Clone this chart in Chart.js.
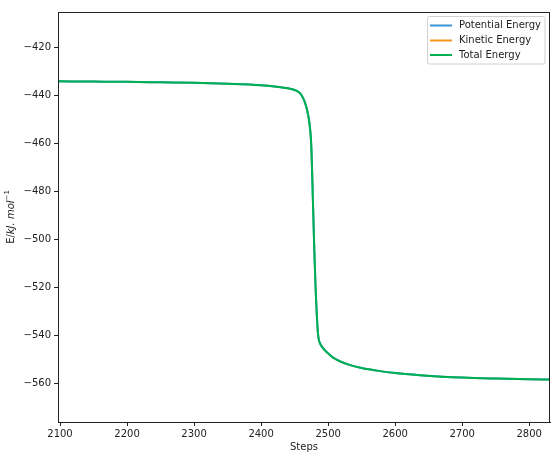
<!DOCTYPE html>
<html><head><meta charset="utf-8">
<script src="https://cdn.jsdelivr.net/npm/chart.js@4/dist/chart.umd.min.js"></script>
<style>html,body{margin:0;padding:0;background:#fff}#wrap{width:558px;height:456px}</style>
</head><body><div id="wrap"><canvas id="c" width="558" height="456"></canvas></div>
<script>
const steps = [2097,2150,2200,2250,2300,2350,2400,2420,2440,2450,2458,2463,2467,2470,2472,2474,2475,2476,2477,2478,2479,2480,2481,2482,2483,2484,2485,2486,2488,2490,2495,2500,2508,2520,2533,2550,2575,2600,2637,2670,2700,2750,2800,2831];
const totalEnergy = [-434.3,-434.4,-434.5,-434.7,-434.9,-435.3,-435.9,-436.4,-437.2,-437.9,-439.2,-441.5,-444.5,-448,-451.5,-457,-462,-471,-481,-491,-501,-510,-518,-525,-531,-536,-539.8,-541.8,-543.5,-544.5,-546.3,-547.6,-549.5,-551.2,-552.5,-553.7,-554.9,-555.8,-556.7,-557.3,-557.7,-558.1,-558.4,-558.5];
const potentialEnergy = [-434.3,-434.4,-434.5,-434.7,-434.9,-435.3,-435.9,-436.4,-437.2,-437.9,-439.2,-441.5,-444.5,-448,-451.5,-457,-462,-471,-481,-491,-501,-510,-518,-525,-531,-536,-539.8,-541.8,-543.5,-544.5,-546.3,-547.6,-549.5,-551.2,-552.5,-553.7,-554.9,-555.8,-556.7,-557.3,-557.7,-558.1,-558.4,-558.5];
const kineticEnergy = [0,0,0,0,0,0,0,0,0,0,0,0,0,0,0,0,0,0,0,0,0,0,0,0,0,0,0,0,0,0,0,0,0,0,0,0,0,0,0,0,0,0,0,0];
const seriesLabels = ['Potential Energy','Kinetic Energy','Total Energy'];
const seriesColors = ['#3a93d5','#f7931e','#00b04f'];
const xTicks = [2100,2200,2300,2400,2500,2600,2700,2800];
const yTicks = [-420,-440,-460,-480,-500,-520,-540,-560];

const pts = arr => arr.map((v,i)=>({x:steps[i], y:v}));
const FONT = 'DejaVu Sans';

const extras = {
  id:'extras',
  afterDraw(chart){
    const ctx = chart.ctx, a = chart.chartArea;
    ctx.save();
    ctx.strokeStyle = '#222'; ctx.lineWidth = 1;
    ctx.strokeRect(Math.round(a.left)+0.5, Math.round(a.top)+0.5, Math.round(a.right-a.left)-1, Math.round(a.bottom-a.top));
    // legend
    const lx = 427.5, ly = 16.5, lw = 117.5, lh = 47.5;
    ctx.fillStyle = 'rgba(255,255,255,0.8)';
    ctx.strokeStyle = '#d0d0d0';
    ctx.beginPath();
    if (ctx.roundRect) ctx.roundRect(lx, ly, lw, lh, 2); else ctx.rect(lx,ly,lw,lh);
    ctx.fill(); ctx.stroke();
    ctx.font = '10px "' + FONT + '"';
    ctx.textBaseline = 'middle'; ctx.textAlign = 'left';
    const rows = [25.5, 40.5, 55];
    seriesLabels.forEach((lab,i)=>{
      ctx.strokeStyle = seriesColors[i]; ctx.lineWidth = 2;
      ctx.beginPath(); ctx.moveTo(430, rows[i]); ctx.lineTo(452, rows[i]); ctx.stroke();
      ctx.fillStyle = '#222';
      ctx.fillText(lab, 459, rows[i]);
    });
    // x title
    ctx.textAlign = 'center';
    ctx.fillText('Steps', (a.left+a.right)/2, 447);
    // y title (rotated, mixed)
    ctx.translate(11, 217);
    ctx.rotate(-Math.PI/2);
    const p1 = 'E/', p2 = 'kJ. mol', p3 = '\u22121';
    ctx.font = '10px "' + FONT + '"';
    const w1 = ctx.measureText(p1).width;
    ctx.font = 'italic 10px "' + FONT + '"';
    const w2 = ctx.measureText(p2).width;
    ctx.font = '7px "' + FONT + '"';
    const w3 = ctx.measureText(p3).width;
    let x = -(w1+w2+w3)/2;
    ctx.textAlign = 'left';
    ctx.font = '10px "' + FONT + '"'; ctx.fillText(p1, x, 0); x += w1;
    ctx.font = 'italic 10px "' + FONT + '"'; ctx.fillText(p2, x, 0); x += w2;
    ctx.font = '7px "' + FONT + '"'; ctx.fillText(p3, x, -4);
    ctx.restore();
  }
};

new Chart(document.getElementById('c'), {
  type:'line',
  data:{ datasets:[
    {label:seriesLabels[2], data:pts(totalEnergy), borderColor:seriesColors[2], order:0},
    {label:seriesLabels[1], data:pts(kineticEnergy), borderColor:seriesColors[1], order:1},
    {label:seriesLabels[0], data:pts(potentialEnergy), borderColor:seriesColors[0], order:2}
  ].map(d=>Object.assign(d,{borderWidth:2, pointRadius:0, fill:false, cubicInterpolationMode:'monotone'}))},
  options:{
    responsive:false, animation:false, devicePixelRatio:1,
    layout:{padding:{top:12, right:8, left:0, bottom:0}},
    plugins:{legend:{display:false}, tooltip:{enabled:false}},
    scales:{
      x:{type:'linear', min:2097, max:2831,
        afterBuildTicks(s){ s.ticks = xTicks.map(v=>({value:v})); },
        afterFit(s){ s.height = 34; },
        grid:{display:true, drawOnChartArea:false, drawTicks:true, tickLength:4, color:'#222'},
        border:{display:true, color:'#222'},
        ticks:{font:{family:FONT,size:10}, color:'#222', padding:2, maxRotation:0,
          callback:v=>String(v)}
      },
      y:{type:'linear', min:-576.2, max:-405.4,
        afterBuildTicks(s){ s.ticks = yTicks.map(v=>({value:v})); },
        afterFit(s){ s.width = 58; },
        grid:{display:true, drawOnChartArea:false, drawTicks:true, tickLength:4, color:'#222'},
        border:{display:true, color:'#222'},
        ticks:{font:{family:FONT,size:10}, color:'#222', padding:3,
          callback:v=>String(v).replace('-','\u2212')}
      }
    }
  },
  plugins:[extras]
});
</script></body></html>
